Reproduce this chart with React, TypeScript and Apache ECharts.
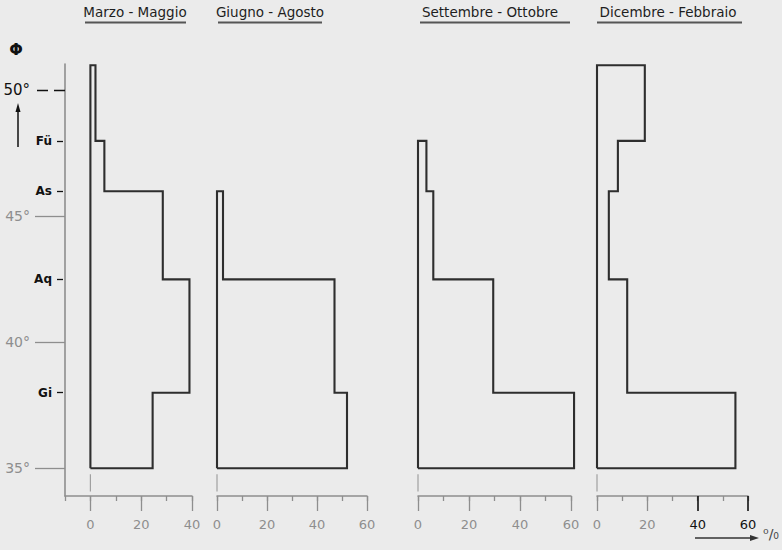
import React, { useEffect, useRef } from "react";
import * as echarts from "echarts";

// ---- data ----
const boundaries = [35, 38, 42.5, 46, 48, 51];
const seasons = ["Marzo - Maggio", "Giugno - Agosto", "Settembre - Ottobre", "Dicembre - Febbraio"];
const marzoMaggio = [24.5, 39, 28.5, 5.5, 2];
const giugnoAgosto = [52, 47, 2.4, 0, 0];
const settembreOttobre = [61.2, 29.5, 6, 3.3, 0];
const dicembreFebbraio = [55, 12, 4.7, 8.3, 19];
const degreeTicks = [35, 40, 45];
const topDegree = [50];
const zoneTicks = [38, 42.5, 46, 48];
const zoneLabels = ["Gi", "Aq", "As", "Fü"];
const xMins = [-10, 0, 0, 0];
const xMaxs = [40, 60, 60, 60];
const majorTicks = [[0, 20, 40], [0, 20, 40, 60], [0, 20, 40, 60], [0, 20]];
const darkTicks = [[], [], [], [40, 60]];
const unitLabel = "⁰/₀";

// ---- layout ----
const Y_MIN = 33.9;
const Y_MAX = 51.05;
const gridLefts = [65, 217, 418, 597];
const gridWidths = [127, 150, 153, 151];
const GRID_TOP = 64;
const GRID_H = 432;
const titleX = [135, 270, 490, 668];
const underline = [[85, 186], [218, 322], [420, 570], [597, 742]];

const GRAY = "#8e8e8e";
const DARK = "#2e2e2e";
const BG = "#ebebeb";

function outline(values: number[]) {
  let n = values.length;
  while (n > 0 && values[n - 1] === 0) n--;
  const pts: number[][] = [[0, boundaries[0]]];
  for (let i = 0; i < n; i++) {
    pts.push([values[i], boundaries[i]]);
    pts.push([values[i], boundaries[i + 1]]);
  }
  pts.push([0, boundaries[n]]);
  pts.push([0, boundaries[0]]);
  return pts;
}

export default function App() {
  const ref = useRef<HTMLDivElement>(null);
  useEffect(() => {
    document.body.style.margin = "0";
    const chart = echarts.init(ref.current!, null, { renderer: "svg" });
    const allValues = [marzoMaggio, giugnoAgosto, settembreOttobre, dicembreFebbraio];

    const grids = gridLefts.map((l, i) => ({
      left: l,
      width: gridWidths[i],
      top: GRID_TOP,
      height: GRID_H,
    }));

    const xAxes: any[] = [];
    gridLefts.forEach((_, g) => {
      xAxes.push({
        gridIndex: g,
        type: "value",
        min: xMins[g],
        max: xMaxs[g],
        interval: 10,
        position: "bottom",
        axisLine: { show: true, onZero: false, lineStyle: { color: GRAY, width: 1.5 } },
        axisTick: { show: true, length: 5, lineStyle: { color: GRAY, width: 1.3 } },
        axisLabel: { show: false },
        splitLine: { show: false },
      });
      xAxes.push({
        gridIndex: g,
        type: "value",
        min: xMins[g],
        max: xMaxs[g],
        interval: 10,
        position: "bottom",
        axisLine: { show: false, onZero: false },
        axisTick: { show: true, length: 15, customValues: majorTicks[g], lineStyle: { color: GRAY, width: 1.3 } },
        axisLabel: {
          show: true,
          customValues: majorTicks[g],
          margin: 22,
          color: GRAY,
          fontSize: 13,
          fontFamily: "DejaVu Sans",
        },
        splitLine: { show: false },
      });
      xAxes.push({
        gridIndex: g,
        type: "value",
        min: xMins[g],
        max: xMaxs[g],
        interval: 10,
        position: "bottom",
        show: darkTicks[g].length > 0,
        axisLine: { show: false, onZero: false },
        axisTick: { show: true, length: 15, customValues: darkTicks[g].length ? darkTicks[g] : [-999], lineStyle: { color: "#111", width: 1.6 } },
        axisLabel: {
          show: true,
          customValues: darkTicks[g].length ? darkTicks[g] : [-999],
          margin: 22,
          color: "#111",
          fontSize: 13,
          fontFamily: "DejaVu Sans",
        },
        splitLine: { show: false },
      });
    });

    const yBase = { type: "value", min: Y_MIN, max: Y_MAX, position: "left", splitLine: { show: false } };
    const yAxes: any[] = [
      {
        ...yBase,
        gridIndex: 0,
        axisLine: { show: true, onZero: false, lineStyle: { color: GRAY, width: 1.6 } },
        axisTick: { show: true, length: 30, customValues: degreeTicks, lineStyle: { color: GRAY, width: 1.3 } },
        axisLabel: {
          show: true,
          customValues: degreeTicks,
          margin: 35,
          color: GRAY,
          fontSize: 14,
          fontFamily: "DejaVu Sans",
          formatter: (v: number) => v + "°",
        },
      },
      {
        ...yBase,
        gridIndex: 0,
        axisLine: { show: false, onZero: false },
        axisTick: { show: true, length: 30, customValues: topDegree, lineStyle: { color: "#111", width: 1.4, type: [11, 6] } },
        axisLabel: {
          show: true,
          customValues: topDegree,
          margin: 35,
          color: "#111",
          fontSize: 15,
          fontFamily: "DejaVu Sans",
          formatter: (v: number) => v + "°",
        },
      },
      {
        ...yBase,
        gridIndex: 0,
        offset: 2,
        axisLine: { show: false, onZero: false },
        axisTick: { show: true, length: 6, customValues: zoneTicks, lineStyle: { color: "#111", width: 1.3 } },
        axisLabel: {
          show: true,
          customValues: zoneTicks,
          margin: 11,
          color: "#111",
          fontSize: 12,
          fontWeight: "bold",
          fontFamily: "DejaVu Sans",
          formatter: (v: number) => zoneLabels[zoneTicks.indexOf(v)] ?? "",
        },
      },
      { ...yBase, gridIndex: 1, show: false, axisLine: { onZero: false } },
      { ...yBase, gridIndex: 2, show: false, axisLine: { onZero: false } },
      { ...yBase, gridIndex: 3, show: false, axisLine: { onZero: false } },
    ];
    const yIndexForGrid = [0, 3, 4, 5];

    const series: any[] = [];
    allValues.forEach((vals, g) => {
      const pts = outline(vals);
      series.push({
        type: "custom",
        xAxisIndex: g * 3,
        yAxisIndex: yIndexForGrid[g],
        data: pts,
        clip: false,
        silent: true,
        renderItem: (params: any, api: any) => {
          if (params.dataIndex !== 0) return null;
          const points = pts.map((p) => api.coord(p));
          return {
            type: "polyline",
            shape: { points },
            style: { stroke: DARK, lineWidth: 2.1, fill: "none", lineJoin: "miter" },
          };
        },
      });
      series.push({
        type: "line",
        xAxisIndex: g * 3,
        yAxisIndex: yIndexForGrid[g],
        data: [[0, 34.08], [0, 34.76]],
        symbol: "none",
        lineStyle: { color: "#a0a0a0", width: 1.2 },
        silent: true,
      });
    });

    const graphics: any[] = [];
    seasons.forEach((s, i) => {
      graphics.push({
        type: "text",
        x: titleX[i],
        y: 12,
        style: {
          text: s,
          fill: "#1e1e1e",
          font: "13.5px 'DejaVu Sans'",
          textAlign: "center",
          textVerticalAlign: "middle",
        },
      });
      graphics.push({
        type: "line",
        shape: { x1: underline[i][0], y1: 22.5, x2: underline[i][1], y2: 22.5 },
        style: { stroke: "#555", lineWidth: 2 },
      });
    });
    graphics.push({
      type: "text",
      x: 16,
      y: 49,
      style: { text: "Φ", fill: "#111", font: "bold 16px 'DejaVu Sans'", textAlign: "center", textVerticalAlign: "middle" },
    });
    graphics.push({
      type: "line",
      shape: { x1: 18, y1: 147, x2: 18, y2: 108 },
      style: { stroke: "#111", lineWidth: 1.5 },
    });
    graphics.push({
      type: "polygon",
      shape: { points: [[18, 103], [15.5, 112], [20.5, 112]] },
      style: { fill: "#111" },
    });
    graphics.push({
      type: "line",
      shape: { x1: 695, y1: 538, x2: 752, y2: 538 },
      style: { stroke: "#333", lineWidth: 1.6 },
    });
    graphics.push({
      type: "polygon",
      shape: { points: [[759, 538], [750, 535], [750, 541]] },
      style: { fill: "#333" },
    });
    graphics.push({
      type: "text",
      x: 771,
      y: 534,
      style: { text: unitLabel, fill: "#444", font: "14px 'DejaVu Sans'", textAlign: "center", textVerticalAlign: "middle" },
    });

    chart.setOption({
      animation: false,
      backgroundColor: BG,
      grid: grids,
      xAxis: xAxes,
      yAxis: yAxes,
      series,
      graphic: graphics,
    });
    return () => chart.dispose();
  }, []);
  return <div ref={ref} style={{ width: 782, height: 550 }} />;
}
